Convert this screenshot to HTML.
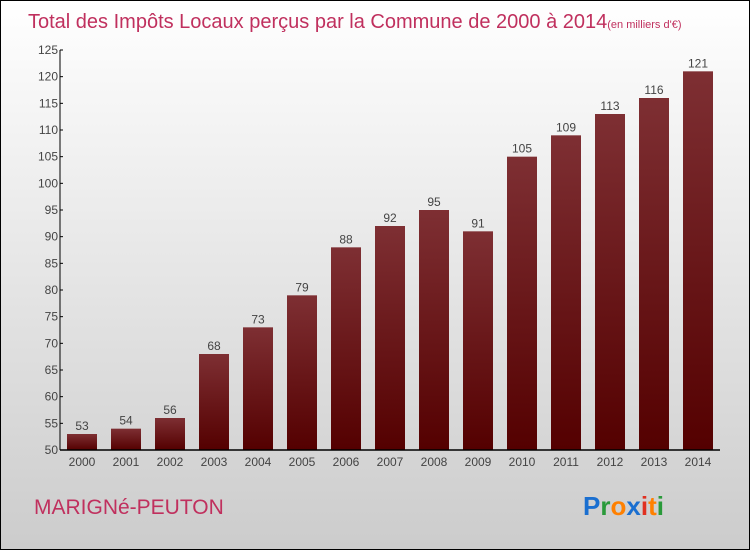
<!DOCTYPE html>
<html><head><meta charset="utf-8"><style>
html,body{margin:0;padding:0}
body{width:750px;height:550px;overflow:hidden;font-family:"Liberation Sans","DejaVu Sans",sans-serif}
</style></head><body>
<svg width="750" height="550" xmlns="http://www.w3.org/2000/svg">
<defs>
<linearGradient id="bg" x1="0" y1="0" x2="0" y2="1"><stop offset="0" stop-color="#ffffff"/><stop offset="1" stop-color="#cccccc"/></linearGradient>
<linearGradient id="bar" x1="0" y1="0" x2="0" y2="1"><stop offset="0" stop-color="#7e2f33"/><stop offset="1" stop-color="#540000"/></linearGradient>
</defs>
<rect x="0.5" y="0.5" width="749" height="549" fill="url(#bg)" stroke="#000"/>
<text x="28" y="28" font-size="20" fill="#c0305e">Total des Impôts Locaux perçus par la Commune de 2000 à 2014<tspan font-size="11">(en milliers d'€)</tspan></text>
<g id="yaxis"></g>
<g id="bars"></g>
<g id="xaxis"></g>
<text x="34" y="514" font-size="21" fill="#c0305e">MARIGNé-PEUTON</text>
<g font-size="26" font-weight="bold" font-family="'Liberation Sans',sans-serif">
<text x="583" y="515"><tspan fill="#1a6fd0">P</tspan><tspan fill="#2a9a3a">r</tspan><tspan fill="#ff8000">o</tspan><tspan fill="#1a6fd0">x</tspan><tspan fill="#e03020">i</tspan><tspan fill="#ff8000">t</tspan><tspan fill="#2a9a3a">i</tspan></text>
</g>
</svg>
<script>
const categories=["2000","2001","2002","2003","2004","2005","2006","2007","2008","2009","2010","2011","2012","2013","2014"];
const values=[53,54,56,68,73,79,88,92,95,91,105,109,113,116,121];
const yTicks=[50,55,60,65,70,75,80,85,90,95,100,105,110,115,120,125];
const NS="http://www.w3.org/2000/svg";
const yMin=50,yMax=125,plotTop=50,plotBot=450;
function y(v){return plotBot-(v-yMin)/(yMax-yMin)*(plotBot-plotTop);}
function x(i){return 82+i*44;}
function mk(t,a,p){const e=document.createElementNS(NS,t);for(const k in a)e.setAttribute(k,a[k]);p.appendChild(e);return e;}
const ya=document.getElementById('yaxis'),xa=document.getElementById('xaxis'),bg=document.getElementById('bars');
const al=mk('line',{x1:60,y1:plotTop,x2:60,y2:plotBot,stroke:'#000','stroke-width':1},ya);


yTicks.forEach(v=>{
 const l=mk('line',{x1:60,y1:y(v),x2:63,y2:y(v),stroke:'#000'},ya);
 
 
 const t=mk('text',{x:58,y:y(v)+4,'text-anchor':'end','font-size':12,fill:'#444'},ya);
 t.textContent=v;
 
 
});
categories.forEach((c,i)=>{
 const r=mk('rect',{x:x(i)-15,y:y(values[i]),width:30,height:plotBot-y(values[i]),fill:'url(#bar)'},bg);
 
 
 const vt=mk('text',{x:x(i),y:y(values[i])-4,'text-anchor':'middle','font-size':12,fill:'#444'},bg);
 vt.textContent=values[i];
 
 
 const tl=mk('text',{x:x(i),y:466,'text-anchor':'middle','font-size':12,fill:'#444'},xa);
 tl.textContent=c;
 
 
});
const xl=mk('line',{x1:60,y1:plotBot,x2:720,y2:plotBot,stroke:'#000','stroke-width':1.5},xa);


</script>
</body></html>
